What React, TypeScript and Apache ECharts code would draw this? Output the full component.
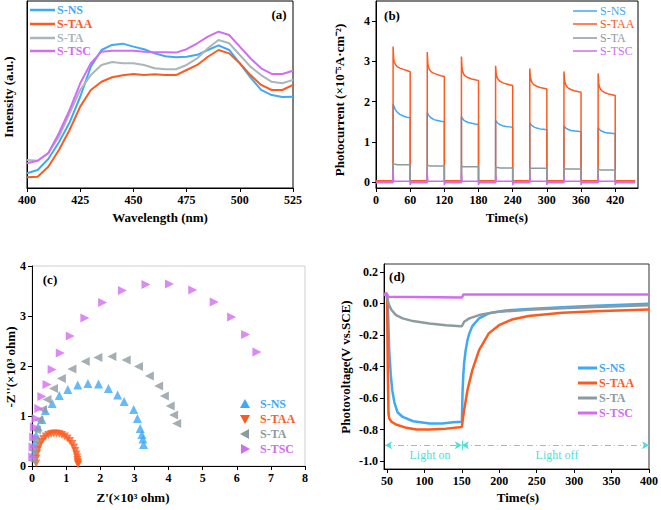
import React, { useEffect, useRef } from "react";
import * as echarts from "echarts";

const FONT = "Liberation Serif, Times New Roman, serif";
const C_NS = "#3fa9f5";
const C_TAA = "#ff5a1e";
const C_TA_A = "#aab6ba";
const C_TA = "#8d9aa0";
const C_TSC = "#d26cf2";
const C_LIGHT = "#4fe0d2";

// ---------- (a) PL spectra ----------
const wavelengthA = [400, 405, 410, 415, 420, 425, 430, 435, 440, 445, 450, 455, 460, 465, 470, 475, 480, 485, 490, 495, 500, 505, 510, 515, 520, 525];
const nsA = [79, 96, 155, 245, 350, 488, 649, 738, 765, 772, 756, 742, 720, 705, 699, 702, 712, 738, 763, 738, 667, 592, 525, 497, 487, 488];
const taaA = [57, 60, 114, 203, 310, 435, 524, 568, 592, 603, 610, 604, 608, 604, 604, 631, 658, 702, 738, 720, 667, 604, 551, 524, 524, 551];
const taA = [150, 146, 187, 274, 399, 524, 604, 658, 674, 667, 667, 658, 640, 635, 635, 658, 694, 747, 791, 774, 711, 649, 604, 568, 560, 578];
const tscA = [132, 146, 186, 293, 417, 560, 667, 729, 734, 734, 734, 729, 726, 726, 724, 742, 774, 809, 836, 818, 756, 694, 640, 610, 610, 627];

// ---------- (b) photocurrent ----------
const cycleStartsB = [30, 90, 150, 210, 270, 330, 390];
const cycleOffsetsB = [0, 1, 2, 4, 7, 12, 18, 24, 30];
const taaOnB = [
  [3.37, 3.08, 2.99, 2.92, 2.87, 2.83, 2.8, 2.77, 2.74],
  [3.23, 2.95, 2.86, 2.79, 2.74, 2.7, 2.67, 2.64, 2.62],
  [3.12, 2.85, 2.76, 2.68, 2.63, 2.59, 2.56, 2.54, 2.52],
  [2.89, 2.7, 2.62, 2.56, 2.51, 2.47, 2.44, 2.42, 2.4],
  [2.82, 2.62, 2.54, 2.47, 2.42, 2.38, 2.35, 2.33, 2.31],
  [2.75, 2.54, 2.46, 2.39, 2.34, 2.3, 2.27, 2.25, 2.23],
  [2.7, 2.47, 2.38, 2.31, 2.26, 2.22, 2.19, 2.17, 2.15],
];
const nsOnB = [
  [1.93, 1.9, 1.86, 1.8, 1.74, 1.68, 1.64, 1.61, 1.6],
  [1.73, 1.7, 1.67, 1.63, 1.59, 1.55, 1.53, 1.51, 1.5],
  [1.63, 1.6, 1.58, 1.54, 1.51, 1.48, 1.46, 1.44, 1.43],
  [1.53, 1.51, 1.49, 1.46, 1.43, 1.4, 1.38, 1.37, 1.36],
  [1.47, 1.45, 1.43, 1.4, 1.37, 1.34, 1.32, 1.31, 1.3],
  [1.4, 1.38, 1.36, 1.33, 1.31, 1.28, 1.27, 1.26, 1.25],
  [1.35, 1.33, 1.31, 1.28, 1.26, 1.23, 1.22, 1.21, 1.2],
];
const taOnB = [
  [0.47, 0.45, 0.44, 0.44, 0.43, 0.43, 0.43, 0.43, 0.43],
  [0.42, 0.41, 0.41, 0.4, 0.4, 0.4, 0.4, 0.4, 0.4],
  [0.4, 0.39, 0.38, 0.38, 0.38, 0.38, 0.38, 0.38, 0.38],
  [0.37, 0.36, 0.36, 0.36, 0.35, 0.35, 0.35, 0.35, 0.35],
  [0.35, 0.35, 0.34, 0.34, 0.34, 0.34, 0.34, 0.34, 0.34],
  [0.34, 0.33, 0.33, 0.32, 0.32, 0.32, 0.32, 0.32, 0.32],
  [0.32, 0.31, 0.31, 0.3, 0.3, 0.3, 0.3, 0.3, 0.3],
];
const tscSpikeB = [0.28, 0.22, 0.2, 0.18, 0.16, 0.14, 0.13];
const tscDipB = [-0.08, -0.08, -0.08, -0.08, -0.08, -0.08, -0.08];
const tscLightB = 0.02;
const nsDarkB = 0.0;
const taaDarkB = 0.03;
const taDarkB = -0.02;
const tscDarkB = -0.01;
const endTimeB = 455;
const timeTicksB = [0, 60, 120, 180, 240, 300, 360, 420];
const currentTicksB = [0, 1, 2, 3, 4];

// ---------- (c) Nyquist ----------
const nsZre = [0.04, 0.07, 0.12, 0.18, 0.29, 0.39, 0.59, 0.8, 1.05, 1.34, 1.64, 1.95, 2.24, 2.51, 2.7, 2.98, 3.09, 3.17, 3.22, 3.25, 3.27];
const nsZim = [0.25, 0.45, 0.62, 0.78, 0.93, 1.11, 1.25, 1.41, 1.53, 1.62, 1.65, 1.64, 1.55, 1.42, 1.29, 1.13, 0.95, 0.75, 0.63, 0.54, 0.43];
const taaZre = [0.12, 0.13, 0.15, 0.18, 0.22, 0.27, 0.33, 0.4, 0.48, 0.56, 0.64, 0.72, 0.8, 0.88, 0.96, 1.04, 1.11, 1.18, 1.23, 1.27, 1.3, 1.32, 1.33, 1.34, 1.35, 1.35];
const taaZim = [0.05, 0.15, 0.25, 0.33, 0.41, 0.48, 0.54, 0.59, 0.62, 0.64, 0.65, 0.65, 0.64, 0.62, 0.59, 0.55, 0.5, 0.44, 0.37, 0.3, 0.23, 0.17, 0.12, 0.08, 0.05, 0.03];
const taZre = [0.03, 0.05, 0.08, 0.13, 0.2, 0.31, 0.44, 0.63, 0.86, 1.17, 1.56, 1.93, 2.34, 2.76, 3.12, 3.44, 3.71, 3.88, 4.05, 4.15, 4.24];
const taZim = [0.11, 0.31, 0.52, 0.72, 0.92, 1.13, 1.33, 1.55, 1.75, 1.94, 2.09, 2.17, 2.19, 2.12, 1.99, 1.8, 1.6, 1.4, 1.2, 1.02, 0.85];
const tscZre = [0.02, 0.03, 0.05, 0.07, 0.12, 0.2, 0.29, 0.44, 0.59, 0.83, 1.12, 1.55, 2.07, 2.65, 3.34, 4.03, 4.71, 5.34, 5.85, 6.26, 6.59];
const tscZim = [0.18, 0.38, 0.58, 0.78, 0.95, 1.15, 1.39, 1.63, 1.93, 2.26, 2.6, 2.96, 3.27, 3.51, 3.63, 3.64, 3.52, 3.28, 2.98, 2.63, 2.28];

// ---------- (d) photovoltage ----------
const nsTimeD = [46, 50, 51, 53, 55, 57, 60, 64, 71, 85, 107, 124, 138, 150, 151, 152, 153, 155, 157.5, 160, 164, 169, 173, 177, 186, 208, 239, 284, 328, 400];
const nsVoltD = [0.055, 0.055, 0.0, -0.3, -0.45, -0.55, -0.63, -0.69, -0.72, -0.747, -0.762, -0.762, -0.753, -0.751, -0.55, -0.45, -0.38, -0.3, -0.233, -0.19, -0.144, -0.116, -0.095, -0.085, -0.063, -0.045, -0.035, -0.025, -0.015, -0.002];
const taaTimeD = [46, 50, 51, 52, 53, 56, 62, 76, 89, 107, 129, 150, 153, 157.5, 164, 173, 186, 199.6, 217, 239, 284, 328, 400];
const taaVoltD = [0.06, 0.06, -0.4, -0.7, -0.73, -0.75, -0.768, -0.789, -0.8, -0.8, -0.794, -0.783, -0.677, -0.55, -0.423, -0.296, -0.19, -0.138, -0.102, -0.08, -0.059, -0.049, -0.038];
const taTimeD = [46, 49, 50, 52, 55.8, 62, 71, 84.5, 106.6, 128.8, 148.7, 150, 153, 160, 173, 195, 239, 284, 328, 400];
const taVoltD = [0.06, 0.06, 0.04, 0.0, -0.04, -0.074, -0.095, -0.112, -0.127, -0.138, -0.144, -0.145, -0.116, -0.095, -0.074, -0.055, -0.04, -0.03, -0.022, -0.012];
const tscTimeD = [46, 48, 49, 50, 51, 52, 150, 151, 152, 400];
const tscVoltD = [0.05, 0.06, 0.065, 0.06, 0.045, 0.042, 0.038, 0.045, 0.057, 0.057];
const timeTicksD = [50, 100, 150, 200, 250, 300, 350, 400];
const voltTicksD = [-1.0, -0.8, -0.6, -0.4, -0.2, 0.0, 0.2];
const lightLevelD = -0.9;
const lightStartD = 47.3;
const lightSwitchD = 150;
const lightEndD = 400;

const zip = (xs: number[], ys: number[]) => xs.map((x, i) => [x, ys[i]]);

function pulseSeries(dark: number, pulses: number[][]) {
  const pts: number[][] = [[0, dark]];
  const last = cycleOffsetsB[cycleOffsetsB.length - 1];
  cycleStartsB.forEach((t0, i) => {
    pts.push([t0, dark]);
    cycleOffsetsB.forEach((dt, j) => pts.push([t0 + dt, pulses[i][j]]));
    pts.push([t0 + last, dark]);
  });
  pts.push([endTimeB, dark]);
  return pts;
}

function tscPulseSeries() {
  const pts: number[][] = [[0, tscDarkB]];
  const last = cycleOffsetsB[cycleOffsetsB.length - 1];
  cycleStartsB.forEach((t0, i) => {
    pts.push([t0, tscDarkB]);
    pts.push([t0, tscSpikeB[i]]);
    pts.push([t0 + 1, tscLightB]);
    pts.push([t0 + last, tscLightB]);
    pts.push([t0 + last, tscDipB[i]]);
    pts.push([t0 + last + 1, tscDarkB]);
  });
  pts.push([endTimeB, tscDarkB]);
  return pts;
}

const axisLabelStyle = { fontFamily: FONT, fontWeight: "bold", fontSize: 12, color: "#000", margin: 6 };

function xAx(gridIndex: number, min: number, max: number, extra: any = {}) {
  return {
    type: "value", gridIndex, min, max,
    axisLine: { show: true, onZero: false, lineStyle: { color: "#000", width: 1 } },
    axisTick: { show: true, length: 4, lineStyle: { color: "#000" }, ...(extra.tick || {}) },
    axisLabel: { ...axisLabelStyle, ...(extra.label || {}) },
    splitLine: { show: false },
    ...(extra.axis || {}),
  };
}

function txt(text: string, x: number, y: number, o: any = {}) {
  const align = o.align || "center";
  return {
    type: "text", x, y, rotation: o.rot || 0, silent: true, z: 100,
    style: {
      text, fill: o.color || "#000",
      fontFamily: FONT, fontSize: o.size || 13, fontWeight: o.weight || "bold",
      textAlign: align, align, textVerticalAlign: "middle", verticalAlign: "middle",
    },
  };
}

function legLine(x1: number, x2: number, y: number, color: string, w: number) {
  return { type: "line", silent: true, z: 100, shape: { x1, y1: y, x2, y2: y }, style: { stroke: color, lineWidth: w } };
}

function tri(cx: number, cy: number, dir: string, color: string) {
  const s = 5;
  let pts: number[][];
  if (dir === "up") pts = [[cx, cy - s], [cx + s, cy + s * 0.8], [cx - s, cy + s * 0.8]];
  else if (dir === "down") pts = [[cx, cy + s], [cx + s, cy - s * 0.8], [cx - s, cy - s * 0.8]];
  else if (dir === "left") pts = [[cx - s, cy], [cx + s * 0.8, cy - s], [cx + s * 0.8, cy + s]];
  else pts = [[cx + s, cy], [cx - s * 0.8, cy - s], [cx - s * 0.8, cy + s]];
  return { type: "polygon", silent: true, z: 100, shape: { points: pts }, style: { fill: color } };
}

export default function App() {
  const ref = useRef<HTMLDivElement>(null);
  useEffect(() => {
    if (!ref.current) return;
    const chart = echarts.init(ref.current, null, { renderer: "svg" });
    const lineCommon = { type: "line", showSymbol: false, symbol: "none", silent: true };

    const option: any = {
      animation: false,
      textStyle: { fontFamily: FONT },
      grid: [
        { left: 27, top: 1, width: 266, height: 187, show: true, borderColor: "#000", borderWidth: 1 },
        { left: 376, top: 1, width: 262, height: 187, show: true, borderColor: "#000", borderWidth: 1 },
        { left: 32, top: 266, width: 273, height: 200, show: true, borderColor: "#cfcfcf", borderWidth: 1 },
        { left: 384, top: 264, width: 267, height: 205, show: true, borderColor: "#333", borderWidth: 1 },
      ],
      xAxis: [
        xAx(0, 400, 525, { axis: { interval: 25 } }),
        xAx(1, 0, 460, { tick: { customValues: timeTicksB }, label: { customValues: timeTicksB } }),
        xAx(2, 0, 8, { axis: { interval: 1 } }),
        xAx(3, 46, 400, { tick: { customValues: timeTicksD }, label: { customValues: timeTicksD } }),
      ],
      yAxis: [
        { ...xAx(0, 0, 1000), axisTick: { show: false }, axisLabel: { show: false } },
        xAx(1, -0.15, 4.5, { tick: { customValues: currentTicksB }, label: { customValues: currentTicksB } }),
        xAx(2, 0, 4, { axis: { interval: 1 } }),
        xAx(3, -1.05, 0.25, {
          tick: { customValues: voltTicksD },
          label: { customValues: voltTicksD, formatter: (v: number) => v.toFixed(1) },
        }),
      ],
      series: [
        // (a)
        { ...lineCommon, name: "S-NS", xAxisIndex: 0, yAxisIndex: 0, data: zip(wavelengthA, nsA), lineStyle: { color: C_NS, width: 2 } },
        { ...lineCommon, name: "S-TAA", xAxisIndex: 0, yAxisIndex: 0, data: zip(wavelengthA, taaA), lineStyle: { color: C_TAA, width: 2 } },
        { ...lineCommon, name: "S-TA", xAxisIndex: 0, yAxisIndex: 0, data: zip(wavelengthA, taA), lineStyle: { color: C_TA_A, width: 2 } },
        { ...lineCommon, name: "S-TSC", xAxisIndex: 0, yAxisIndex: 0, data: zip(wavelengthA, tscA), lineStyle: { color: C_TSC, width: 2 } },
        // (b)
        { ...lineCommon, name: "S-NS", xAxisIndex: 1, yAxisIndex: 1, data: pulseSeries(nsDarkB, nsOnB), lineStyle: { color: C_NS, width: 1.5 } },
        { ...lineCommon, name: "S-TAA", xAxisIndex: 1, yAxisIndex: 1, data: pulseSeries(taaDarkB, taaOnB), lineStyle: { color: C_TAA, width: 1.5 } },
        { ...lineCommon, name: "S-TA", xAxisIndex: 1, yAxisIndex: 1, data: pulseSeries(taDarkB, taOnB), lineStyle: { color: C_TA, width: 1.5 } },
        { ...lineCommon, name: "S-TSC", xAxisIndex: 1, yAxisIndex: 1, data: tscPulseSeries(), lineStyle: { color: C_TSC, width: 1.5 } },
        // (c)
        { type: "scatter", name: "S-NS", xAxisIndex: 2, yAxisIndex: 2, silent: true, symbol: "triangle", symbolSize: 9, data: zip(nsZre, nsZim), itemStyle: { color: C_NS } },
        { type: "scatter", name: "S-TAA", xAxisIndex: 2, yAxisIndex: 2, silent: true, symbol: "triangle", symbolRotate: 180, symbolSize: 8, data: zip(taaZre, taaZim), itemStyle: { color: C_TAA } },
        { type: "scatter", name: "S-TA", xAxisIndex: 2, yAxisIndex: 2, silent: true, symbol: "triangle", symbolRotate: 90, symbolSize: 9, data: zip(taZre, taZim), itemStyle: { color: C_TA } },
        { type: "scatter", name: "S-TSC", xAxisIndex: 2, yAxisIndex: 2, silent: true, symbol: "triangle", symbolRotate: -90, symbolSize: 9, data: zip(tscZre, tscZim), itemStyle: { color: C_TSC } },
        // (d)
        { ...lineCommon, name: "S-NS", xAxisIndex: 3, yAxisIndex: 3, data: zip(nsTimeD, nsVoltD), lineStyle: { color: C_NS, width: 2.5 } },
        { ...lineCommon, name: "S-TAA", xAxisIndex: 3, yAxisIndex: 3, data: zip(taaTimeD, taaVoltD), lineStyle: { color: C_TAA, width: 2.5 } },
        { ...lineCommon, name: "S-TA", xAxisIndex: 3, yAxisIndex: 3, data: zip(taTimeD, taVoltD), lineStyle: { color: C_TA, width: 2.5 } },
        {
          ...lineCommon, name: "S-TSC", xAxisIndex: 3, yAxisIndex: 3, data: zip(tscTimeD, tscVoltD), lineStyle: { color: C_TSC, width: 2.5 },
          markLine: {
            silent: true, symbol: ["arrow", "arrow"], symbolSize: [6, 7], label: { show: false },
            lineStyle: { color: C_LIGHT, type: [6, 3, 1, 3], width: 1 },
            data: [
              [{ coord: [lightStartD, lightLevelD] }, { coord: [lightSwitchD, lightLevelD] }],
              [{ coord: [lightSwitchD, lightLevelD] }, { coord: [lightEndD, lightLevelD] }],
              [
                { coord: [lightSwitchD, lightLevelD + 0.03], symbol: "none", lineStyle: { type: "solid" } },
                { coord: [lightSwitchD, lightLevelD - 0.03], symbol: "none" },
              ],
            ],
          },
        },
      ],
      graphic: [
        // axis titles
        txt("Wavelength (nm)", 160, 217),
        txt("Intensity (a.u.)", 8, 97, { rot: Math.PI / 2 }),
        txt("Time(s)", 507, 217),
        txt("Photocurrent (×10⁻⁵A·cm⁻²)", 339, 100, { rot: Math.PI / 2 }),
        txt("Z'(×10³ ohm)", 133, 497),
        txt("-Z''(×10³ ohm)", 10, 367, { rot: Math.PI / 2 }),
        txt("Time(s)", 518, 497),
        txt("Photovoltage(V vs.SCE)", 345, 367, { rot: Math.PI / 2 }),
        // panel labels
        txt("(a)", 279, 14),
        txt("(b)", 392, 15),
        txt("(c)", 50, 279),
        txt("(d)", 397, 276),
        // light annotation
        txt("Light on", 430, 455, { color: C_LIGHT, weight: "normal", size: 12 }),
        txt("Light off", 557, 455, { color: C_LIGHT, weight: "normal", size: 12 }),
        // legend (a)
        legLine(30, 55, 10, C_NS, 2.5), txt("S-NS", 57, 10, { color: C_NS, align: "left", size: 12 }),
        legLine(30, 55, 24, C_TAA, 2.5), txt("S-TAA", 57, 24, { color: C_TAA, align: "left", size: 12 }),
        legLine(30, 55, 38, C_TA_A, 2.5), txt("S-TA", 57, 38, { color: C_TA_A, align: "left", size: 12 }),
        legLine(30, 55, 51, C_TSC, 2.5), txt("S-TSC", 57, 51, { color: C_TSC, align: "left", size: 12 }),
        // legend (b)
        legLine(573, 597, 11, C_NS, 1.5), txt("S-NS", 600, 11, { color: C_NS, align: "left", size: 12, weight: "normal" }),
        legLine(573, 597, 24, C_TAA, 1.5), txt("S-TAA", 600, 24, { color: C_TAA, align: "left", size: 12, weight: "normal" }),
        legLine(573, 597, 38, C_TA, 1.5), txt("S-TA", 600, 38, { color: C_TA, align: "left", size: 12, weight: "normal" }),
        legLine(573, 597, 51, C_TSC, 1.5), txt("S-TSC", 600, 51, { color: C_TSC, align: "left", size: 12, weight: "normal" }),
        // legend (c)
        tri(245, 404, "up", C_NS), txt("S-NS", 260, 404, { color: C_NS, align: "left", size: 12 }),
        tri(245, 419, "down", C_TAA), txt("S-TAA", 260, 419, { color: C_TAA, align: "left", size: 12 }),
        tri(245, 434, "left", C_TA), txt("S-TA", 260, 434, { color: C_TA, align: "left", size: 12 }),
        tri(245, 449, "right", C_TSC), txt("S-TSC", 260, 449, { color: C_TSC, align: "left", size: 12 }),
        // legend (d)
        legLine(578, 597, 368, C_NS, 3), txt("S-NS", 599, 368, { color: C_NS, align: "left", size: 12 }),
        legLine(578, 597, 383, C_TAA, 3), txt("S-TAA", 599, 383, { color: C_TAA, align: "left", size: 12 }),
        legLine(578, 597, 398, C_TA, 3), txt("S-TA", 599, 398, { color: C_TA, align: "left", size: 12 }),
        legLine(578, 597, 413, C_TSC, 3), txt("S-TSC", 599, 413, { color: C_TSC, align: "left", size: 12 }),
      ],
    };
    chart.setOption(option);
    return () => chart.dispose();
  }, []);
  return (
    <div
      ref={ref}
      style={{ position: "absolute", left: 0, top: 0, width: 661, height: 510, background: "#fff" }}
    />
  );
}
